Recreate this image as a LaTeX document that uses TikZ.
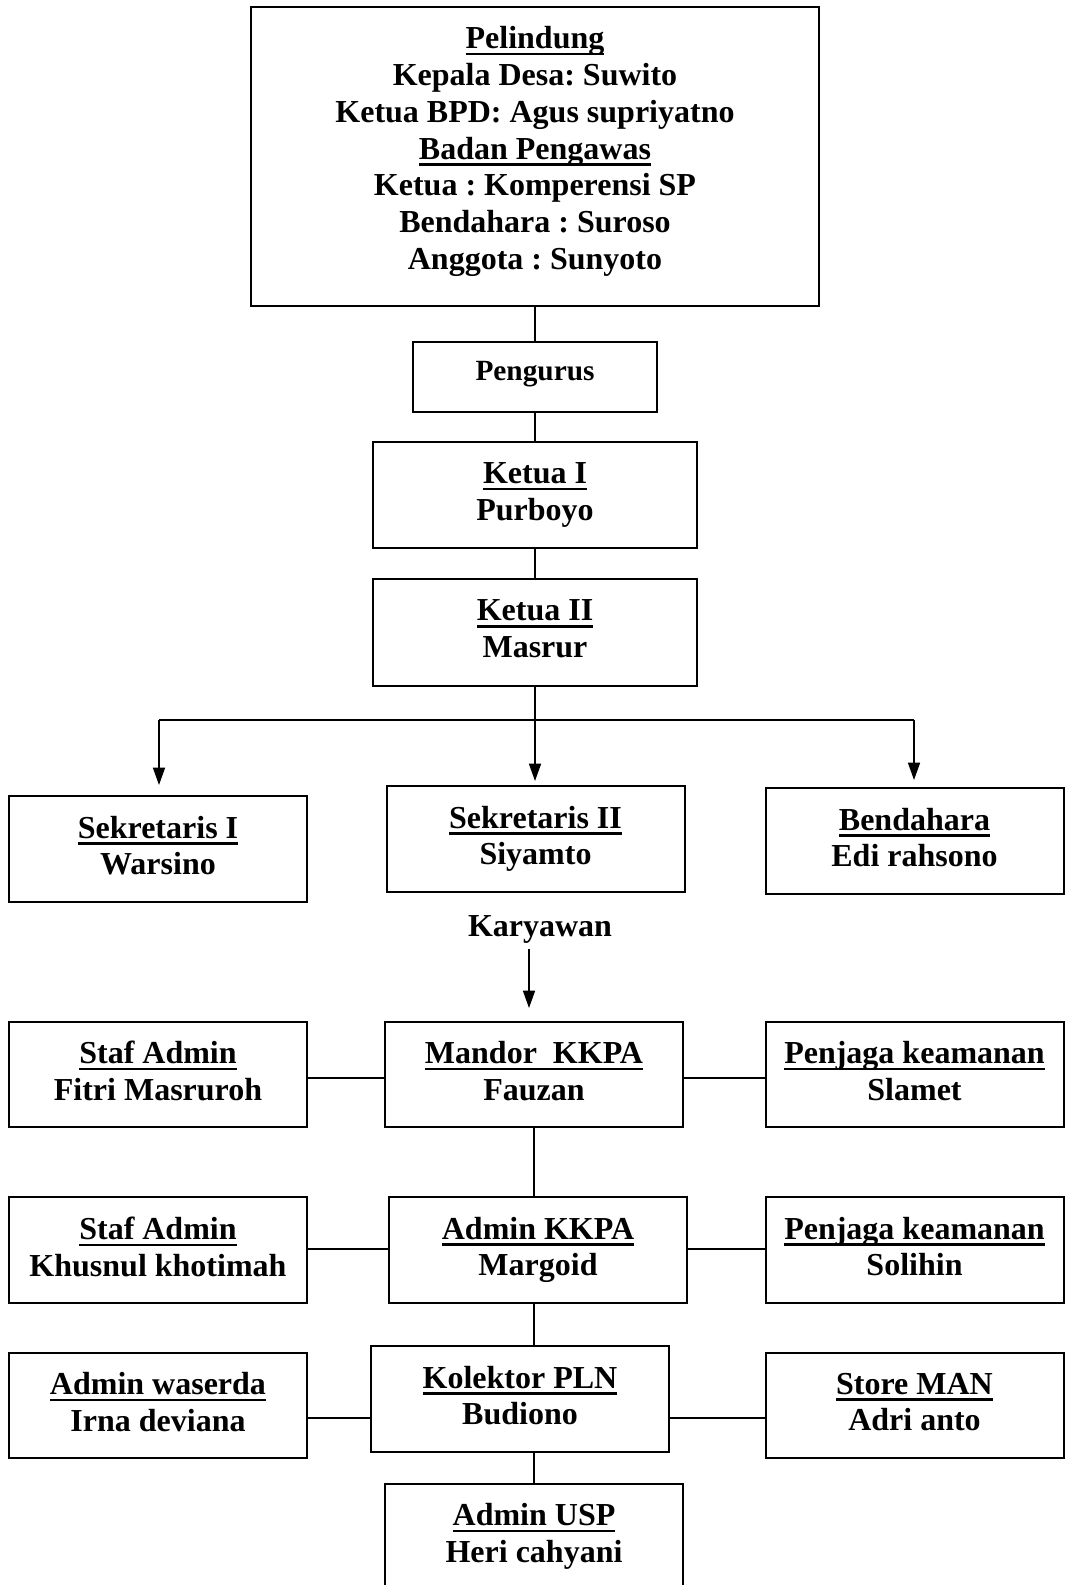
\documentclass[tikz,border=0pt]{standalone}
\usepackage{fontspec}
\setmainfont{Liberation Serif}
\usetikzlibrary{arrows.meta}
\frenchspacing
\newsavebox{\gbbox}
\newcommand{\gb}[1]{\sbox{\gbbox}{#1}\rlap{\usebox{\gbbox}}\rule[-2.5pt]{\wd\gbbox}{0.9pt}}
\tikzset{
  kotak/.style={draw, line width=0.75pt, align=center, inner sep=0pt, text depth=2.7pt, font=\bfseries\fontsize{12}{13.8}\selectfont},
  sisi/.style={kotak, minimum width=111.75pt, minimum height=39.4pt},
  ketuabox/.style={kotak, minimum width=121.5pt, minimum height=39.6pt},
  teks/.style={align=center, inner sep=0pt, font=\bfseries\fontsize{12}{13.8}\selectfont},
  garis/.style={line width=0.6pt},
  panah/.style={garis, -{Triangle[length=6.5pt,width=4.5pt]}}
}

\begin{document}
\begin{tikzpicture}[x=0.375pt, y=-0.375pt]
			%%%%% START %%%%%
			\useasboundingbox (0,0) rectangle (1073,1585);
			
			\node[kotak, minimum width=213pt, minimum height=112.1pt] (pelindung) at (535,156.5) {};
			\node[teks] (pelindungteks) at (535,151.5) {\gb{Pelindung}\\Kepala Desa: Suwito\\Ketua BPD: Agus supriyatno\\\gb{Badan Pengawas}\\Ketua : Komperensi SP\\Bendahara : Suroso\\Anggota : Sunyoto};
			
			\node[kotak, minimum width=91.5pt, minimum height=26.25pt, text depth=4.5pt, font=\bfseries\fontsize{11}{13}\selectfont] (pengurus) at (535,377) {Pengurus};
			\node[ketuabox] (ketuasatu) at (535,495) {\gb{Ketua I}\\Purboyo};
			\node[ketuabox, minimum height=40.1pt] (ketuadua) at (535,632.5) {\gb{Ketua II}\\Masrur};
			
			\draw[garis] (pelindung.south) -- (pengurus.north);
			\draw[garis] (pengurus.south) -- (ketuasatu.north);
			\draw[garis] (ketuasatu.south) -- (ketuadua.north);
			
			\node[sisi] (sekretarissatu) at (158,849) {\gb{Sekretaris I}\\Warsino};
			\node[sisi] (sekretarisdua) at (535.5,839) {\gb{Sekretaris II}\\Siyamto};
			\node[sisi] (bendahara) at (914.5,841) {\gb{Bendahara}\\Edi rahsono};
			
			\coordinate (bus) at (535,720);
			\coordinate (buskiri) at (159,720);
			\coordinate (buskanan) at (914,720);
			\coordinate (ujungkiri) at (159,785);
			\coordinate (ujungtengah) at (535,781);
			\coordinate (ujungkanan) at (914,780);
			\draw[garis] (ketuadua.south) -- (bus);
			\draw[garis] (buskiri) -- (buskanan);
			\draw[panah] (buskiri) -- (ujungkiri);
			\draw[panah] (bus) -- (ujungtengah);
			\draw[panah] (buskanan) -- (ujungkanan);
			
			\node[teks] (karyawan) at (540,929) {Karyawan};
			\coordinate (panahatas) at (529,949);
			\coordinate (panahbawah) at (529,1008);
			\draw[panah] (panahatas) -- (panahbawah);
			
			\node[sisi] (stafsatu) at (158,1074.5) {\gb{Staf Admin}\\Fitri Masruroh};
			\node[sisi] (mandor) at (534,1074.5) {\gb{Mandor\ \ KKPA}\\Fauzan};
			\node[sisi] (penjagasatu) at (914.5,1074.5) {\gb{Penjaga keamanan}\\Slamet};
			
			\node[sisi] (stafdua) at (158,1250) {\gb{Staf Admin}\\Khusnul khotimah};
			\node[sisi] (adminkkpa) at (538,1250) {\gb{Admin KKPA}\\Margoid};
			\node[sisi] (penjagadua) at (914.5,1250) {\gb{Penjaga keamanan}\\Solihin};
			
			\node[sisi] (waserda) at (158,1405.5) {\gb{Admin waserda}\\Irna deviana};
			\node[sisi] (kolektor) at (520,1399) {\gb{Kolektor PLN}\\Budiono};
			\node[sisi] (store) at (914.5,1405.5) {\gb{Store MAN}\\Adri anto};
			
			\node[sisi] (adminusp) at (534,1536.5) {\gb{Admin USP}\\Heri cahyani};
			
			\coordinate (barissatu) at (0,1078);
			\coordinate (barisdua) at (0,1249);
			\coordinate (baristiga) at (0,1418);
			\draw[garis] (stafsatu.east |- barissatu) -- (mandor.west |- barissatu);
			\draw[garis] (mandor.east |- barissatu) -- (penjagasatu.west |- barissatu);
			\draw[garis] (stafdua.east |- barisdua) -- (adminkkpa.west |- barisdua);
			\draw[garis] (adminkkpa.east |- barisdua) -- (penjagadua.west |- barisdua);
			\draw[garis] (waserda.east |- baristiga) -- (kolektor.west |- baristiga);
			\draw[garis] (kolektor.east |- baristiga) -- (store.west |- baristiga);
			
			\draw[garis] (mandor.south) -- (mandor.south |- adminkkpa.north);
			\draw[garis] (mandor.south |- adminkkpa.south) -- (mandor.south |- kolektor.north);
			\draw[garis] (mandor.south |- kolektor.south) -- (adminusp.north);
			
			%%%%% END %%%%%
		\end{tikzpicture}
\end{document}
